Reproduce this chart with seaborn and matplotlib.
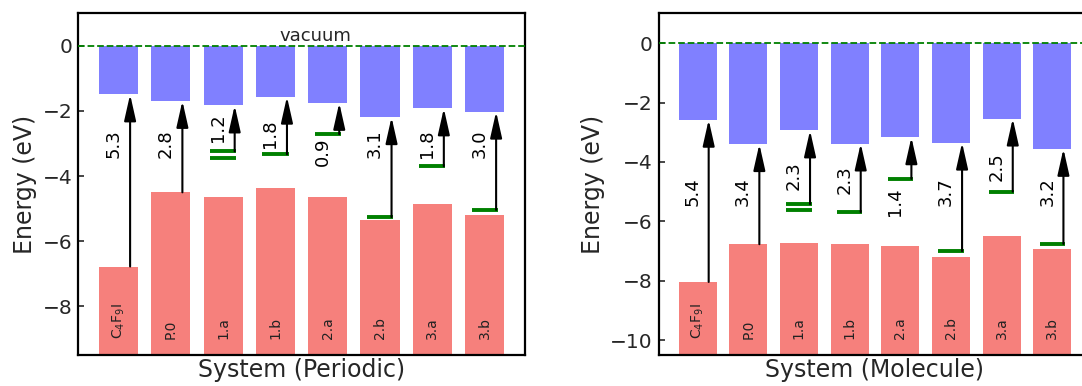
import numpy as np
import matplotlib
matplotlib.use("Agg")
import matplotlib.pyplot as plt
import matplotlib.transforms as mtransforms
import seaborn as sns

# Systems shown along the x axis (drawn inside the HOMO bars)
systems = ["C$_4$F$_9$I", "P.0", "1.a", "1.b", "2.a", "2.b", "3.a", "3.b"]

# Periodic calculations (eV, relative to vacuum)
periodic_lumo = [-1.49, -1.69, -1.83, -1.56, -1.75, -2.19, -1.92, -2.02]
periodic_homo = [-6.78, -4.50, -4.64, -4.38, -4.64, -5.35, -4.86, -5.21]
periodic_states = [[], [], [-3.24, -3.43], [-3.33], [-2.71], [-5.26], [-3.70], [-5.04]]
periodic_gaps = ["5.3", "2.8", "1.2", "1.8", "0.9", "3.1", "1.8", "3.0"]

# Molecular calculations (eV, relative to vacuum)
molecule_lumo = [-2.58, -3.40, -2.94, -3.38, -3.17, -3.35, -2.54, -3.56]
molecule_homo = [-8.04, -6.77, -6.73, -6.77, -6.84, -7.21, -6.48, -6.92]
molecule_states = [[], [], [-5.42, -5.61], [-5.69], [-4.57], [-7.00], [-5.00], [-6.76]]
molecule_gaps = ["5.4", "3.4", "2.3", "2.3", "1.4", "3.7", "2.5", "3.2"]

# Vertical placement of the gap annotations
periodic_label_y = [-3.0, -3.0, -2.5, -2.7, -3.25, -3.0, -3.0, -3.0]
molecule_label_y = [-5.0, -5.0, -4.45, -4.6, -5.35, -5.0, -4.15, -5.0]

BLUE = "#8080ff"
RED = "#f6807c"
GREEN = "green"

sns.set_theme(style="white")
plt.rcParams["font.family"] = ["DejaVu Sans"]
plt.rcParams["mathtext.fontset"] = "dejavusans"


def draw_panel(ax, lumo, homo, states, gaps, label_y, ylim, yticks, xlabel):
    floor = ylim[0] - 2.0
    sns.barplot(x=systems, y=np.array(homo) - floor, order=systems, bottom=floor,
                color=RED, width=0.75, saturation=1, errorbar=None,
                linewidth=0, ax=ax)
    sns.barplot(x=systems, y=lumo, order=systems, color=BLUE, width=0.75,
                saturation=1, errorbar=None, linewidth=0, ax=ax)

    ax.axhline(0, color=GREEN, ls="--", lw=1.3, zorder=3)

    base = mtransforms.blended_transform_factory(ax.transData, ax.transAxes)
    for i, name in enumerate(systems):
        start = states[i][0] if states[i] else homo[i]
        for s in states[i]:
            ax.hlines(s, i - 0.25, i + 0.25, color=GREEN, lw=2.8, zorder=4)
        ax.annotate("", xy=(i + 0.22, lumo[i]), xytext=(i + 0.22, start),
                    arrowprops=dict(arrowstyle="-|>,head_length=0.8,head_width=0.18",
                                    color="black", lw=1.5, shrinkA=0, shrinkB=0,
                                    mutation_scale=20),
                    zorder=5)
        ax.text(i - 0.1, label_y[i], gaps[i], rotation=90, ha="center",
                va="center", fontsize=13, color="black")
        ax.text(i, 0.047, name, transform=base, rotation=90, ha="center",
                va="bottom", fontsize=10, color="#222222")

    ax.set_xlim(-0.77, 7.77)
    ax.set_ylim(*ylim)
    ax.set_yticks(yticks)
    ax.set_yticklabels([f"{t:g}".replace("-", "\u2212") for t in yticks])
    ax.set_xticks([])
    ax.tick_params(axis="y", direction="in", length=4, width=1.2,
                   labelsize=14.5, pad=4, left=True)
    ax.set_xlabel(xlabel, fontsize=17, labelpad=2)
    ax.set_ylabel("Energy (eV)", fontsize=17, labelpad=4)
    for sp in ax.spines.values():
        sp.set_visible(True)
        sp.set_color("black")
        sp.set_linewidth(1.6)


fig = plt.figure(figsize=(10.82, 3.86), dpi=100)
ax1 = fig.add_axes([0.0724, 0.0803, 0.4127, 0.885])
ax2 = fig.add_axes([0.6086, 0.0803, 0.4000, 0.885])

draw_panel(ax1, periodic_lumo, periodic_homo, periodic_states, periodic_gaps,
           periodic_label_y, (-9.5, 1.0), [0, -2, -4, -6, -8], "System (Periodic)")
ax1.text(3.08, 0.15, "vacuum", ha="left", va="baseline", fontsize=13)

draw_panel(ax2, molecule_lumo, molecule_homo, molecule_states, molecule_gaps,
           molecule_label_y, (-10.5, 1.0), [0, -2, -4, -6, -8, -10], "System (Molecule)")

fig.savefig("out.png", dpi=100)
